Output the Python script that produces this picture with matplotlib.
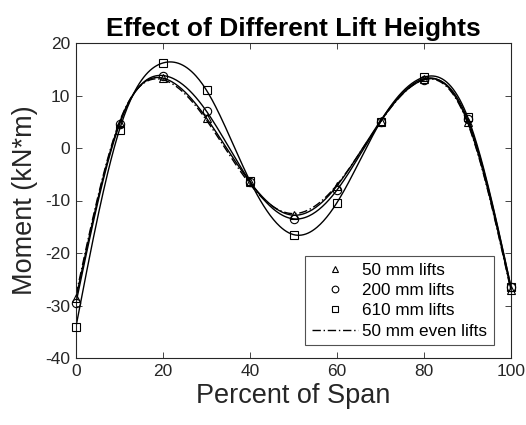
import numpy as np
import matplotlib
matplotlib.use("Agg")
import matplotlib.pyplot as plt

span = [0, 10, 20, 30, 40, 50, 60, 70, 80, 90, 100]
lift50 = [-28.6, 4.8, 13.3, 5.7, -6.5, -12.8, -7.2, 5.2, 13.2, 5.0, -27.0]
lift200 = [-29.5, 4.5, 13.8, 7.0, -6.4, -13.5, -8.0, 5.0, 13.0, 5.5, -26.5]
lift610 = [-34.0, 3.5, 16.2, 11.0, -6.3, -16.5, -10.4, 5.0, 13.5, 6.0, -26.5]
lift50even = [-28.0, 5.0, 13.0, 5.3, -6.9, -12.5, -7.0, 5.0, 13.0, 4.8, -27.2]
labels = ["50 mm lifts", "200 mm lifts", "610 mm lifts", "50 mm even lifts"]

plt.rcParams['font.family'] = ['Liberation Sans', 'DejaVu Sans']
plt.rcParams['axes.unicode_minus'] = False
AX = '#262626'


def spline(x, y, n=400):
    # natural cubic spline for smooth line rendering through the data points
    x = np.asarray(x, float); y = np.asarray(y, float)
    m = len(x); h = np.diff(x)
    A = np.zeros((m, m)); b = np.zeros(m)
    A[0, 0] = A[-1, -1] = 1
    for i in range(1, m - 1):
        A[i, i - 1] = h[i - 1]; A[i, i] = 2 * (h[i - 1] + h[i]); A[i, i + 1] = h[i]
        b[i] = 3 * ((y[i + 1] - y[i]) / h[i] - (y[i] - y[i - 1]) / h[i - 1])
    c = np.linalg.solve(A, b)
    bb = (np.diff(y) / h) - h * (2 * c[:-1] + c[1:]) / 3
    d = np.diff(c) / (3 * h)
    xs = np.linspace(x[0], x[-1], n)
    idx = np.clip(np.searchsorted(x, xs) - 1, 0, m - 2)
    dx = xs - x[idx]
    ys = y[idx] + bb[idx] * dx + c[idx] * dx ** 2 + d[idx] * dx ** 3
    return xs, ys


fig = plt.figure(figsize=(5.26, 4.25), dpi=100)
ax = fig.add_axes([76 / 526, 1 - 358 / 425, (511 - 76) / 526, (358 - 43) / 425])

for data, mk, lab in [(lift50, '^', labels[0]), (lift200, 'o', labels[1]), (lift610, 's', labels[2])]:
    xs, ys = spline(span, data)
    ax.plot(xs, ys, color='black', lw=1.0)
    ax.plot(span, data, linestyle='none', marker=mk, mfc='none', mec='black', ms=6, mew=0.8,
            label=lab, clip_on=False, zorder=3)
xs, ys = spline(span, lift50even)
ax.plot(xs, ys, color='black', lw=1.0, linestyle=(0, (6, 2, 1, 2)), label=labels[3])

ax.set_xlim(0, 100)
ax.set_ylim(-40, 20)
ax.set_xticks([0, 20, 40, 60, 80, 100])
ax.set_yticks([-40, -30, -20, -10, 0, 10, 20])
ax.tick_params(direction='in', top=True, right=True, length=4, labelsize=12.5, width=0.6,
               pad=4, colors=AX)
for s in ax.spines.values():
    s.set_linewidth(0.8)
    s.set_color(AX)

ax.set_xlabel('Percent of Span', fontsize=19.5, color=AX, labelpad=3)
ax.set_ylabel('Moment (kN*m)', fontsize=19.5, color=AX, labelpad=5)
ax.set_title('Effect of Different Lift Heights', fontsize=19, fontweight='bold', pad=5)

leg = ax.legend(loc='lower right', bbox_to_anchor=(0.96, 0.04), fontsize=12.3, frameon=True,
                fancybox=False, edgecolor=AX, handlelength=2.7, markerscale=0.8,
                borderpad=0.4, labelspacing=0.3, handletextpad=0.2, borderaxespad=0)
leg.get_frame().set_linewidth(0.8)

fig.savefig('out.png', dpi=100)
